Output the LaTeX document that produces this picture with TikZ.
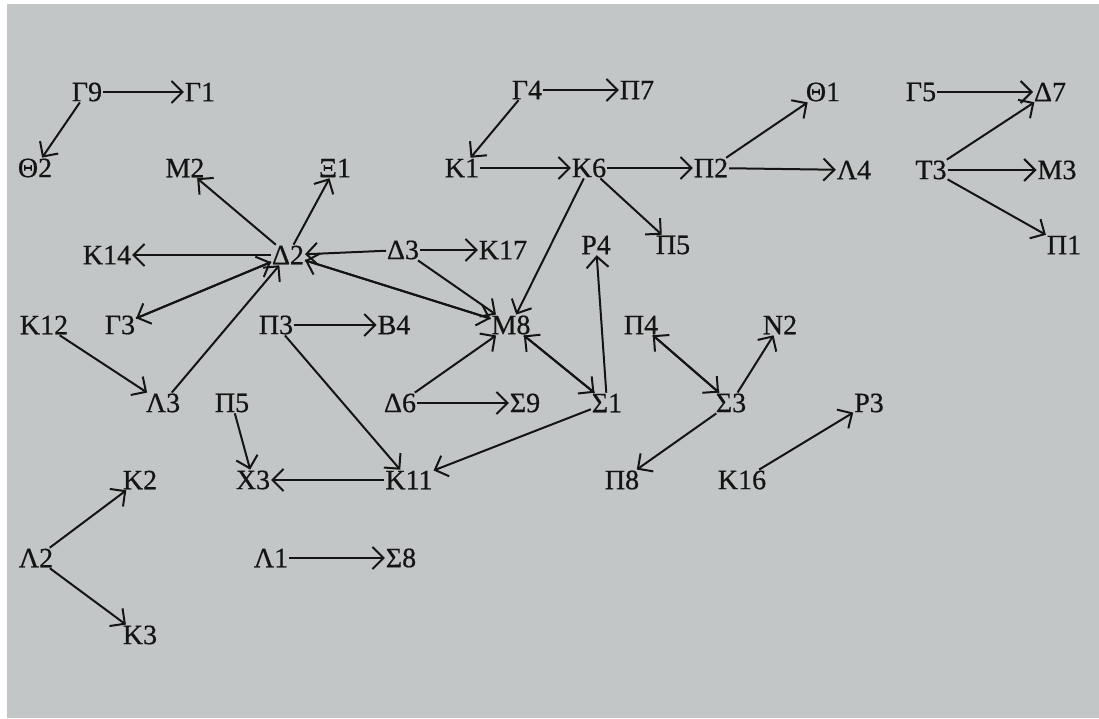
\documentclass[tikz,border=0pt]{standalone}
\usepackage{fontspec}
\setmainfont{Liberation Serif}[BoldFont={Liberation Serif},BoldFeatures={FakeBold=0.6}]
\usetikzlibrary{arrows.meta}
\definecolor{bggray}{RGB}{195,198,199}
\definecolor{ink}{RGB}{20,20,20}
\begin{document}
\begin{tikzpicture}[x=1pt,y=-1pt,
  lbl/.style={inner sep=1pt,outer sep=0pt,font=\fontsize{28}{30}\selectfont\bfseries,text=ink},
  edge/.style={draw=ink,line width=2pt,-{Straight Barb[length=11pt,width=22pt,line width=2pt]}}]
\useasboundingbox (0,0) rectangle (1099,718);
\fill[white] (0,0) rectangle (1099,718);
\fill[bggray] (7,4) rectangle (1099,718);
% nodes
\node[lbl] (G9) at (87,92) {Γ9};
\node[lbl] (G1) at (200,92) {Γ1};
\node[lbl] (Th2) at (35,168) {Θ2};
\node[lbl] (M2) at (185,168) {Μ2};
\node[lbl] (Xi1) at (335,168) {Ξ1};
\node[lbl] (K14) at (107,255) {Κ14};
\node[lbl] (L2a) at (288,255) {Δ2};
\node[lbl] (D3) at (403,250) {Δ3};
\node[lbl] (K17) at (503,250) {Κ17};
\node[lbl] (G4) at (527,90) {Γ4};
\node[lbl] (P7) at (637,90) {Π7};
\node[lbl] (K1) at (462,168) {Κ1};
\node[lbl] (K6) at (589,168) {Κ6};
\node[lbl] (P2) at (711,168) {Π2};
\node[lbl] (Th1) at (823,92) {Θ1};
\node[lbl] (L4) at (854,170) {Λ4};
\node[lbl] (G5) at (921,92) {Γ5};
\node[lbl] (D7) at (1050,92) {Δ7};
\node[lbl] (T3) at (931,170) {Τ3};
\node[lbl] (M3) at (1057,170) {Μ3};
\node[lbl] (P1) at (1064,245) {Π1};
\node[lbl] (R4) at (596,245) {Ρ4};
\node[lbl] (P5a) at (673,245) {Π5};
\node[lbl] (K12) at (44,325) {Κ12};
\node[lbl] (G3) at (120,325) {Γ3};
\node[lbl] (L3) at (163,403) {Λ3};
\node[lbl] (P5b) at (232,403) {Π5};
\node[lbl] (P3) at (276,325) {Π3};
\node[lbl] (B4) at (394,325) {Β4};
\node[lbl] (M8) at (511,325) {Μ8};
\node[lbl] (D6) at (400,403) {Δ6};
\node[lbl] (S9) at (525,403) {Σ9};
\node[lbl] (S1) at (607,403) {Σ1};
\node[lbl] (P4) at (641,325) {Π4};
\node[lbl] (N2) at (780,325) {Ν2};
\node[lbl] (S3) at (731,403) {Σ3};
\node[lbl] (R3) at (869,403) {Ρ3};
\node[lbl] (P8) at (622,480) {Π8};
\node[lbl] (K16) at (742,480) {Κ16};
\node[lbl] (X3) at (253,480) {Χ3};
\node[lbl] (K11) at (409,480) {Κ11};
\node[lbl] (K2) at (140,480) {Κ2};
\node[lbl] (L2b) at (36,558) {Λ2};
\node[lbl] (K3) at (140,635) {Κ3};
\node[lbl] (L1) at (271,558) {Λ1};
\node[lbl] (S8) at (401,558) {Σ8};
% edges
\draw[edge] (G9) -- (G1);
\draw[edge] (G9) -- (Th2);
\draw[edge] (L2a) -- (M2);
\draw[edge] (L2a) -- (Xi1);
\draw[edge] (L2a) -- (K14);
\draw[edge] (L2a) -- (G3);
\draw[edge] (G3) -- (L2a);
\draw[edge] (L3) -- (L2a);
\draw[edge] (D3) -- (L2a);
\draw[edge] (M8) -- (L2a);
\draw[edge] (L2a) -- (M8);
\draw[edge] (D3) -- (K17);
\draw[edge] (D3) -- (M8);
\draw[edge] (G4) -- (P7);
\draw[edge] (G4) -- (K1);
\draw[edge] (K1) -- (K6);
\draw[edge] (K6) -- (P2);
\draw[edge] (K6) -- (P5a);
\draw[edge] (K6) -- (M8);
\draw[edge] (P2) -- (Th1);
\draw[edge] (P2) -- (L4);
\draw[edge] (G5) -- (D7);
\draw[edge] (T3) -- (D7);
\draw[edge] (T3) -- (M3);
\draw[edge] (T3) -- (P1);
\draw[edge] (K12) -- (L3);
\draw[edge] (P3) -- (B4);
\draw[edge] (P3) -- (K11);
\draw[edge] (D6) -- (M8);
\draw[edge] (D6) -- (S9);
\draw[edge] (S1) -- (R4);
\draw[edge] (S1) -- (M8);
\draw[edge] (M8) -- (S1);
\draw[edge] (S1) -- (K11);
\draw[edge] (P5b) -- (X3);
\draw[edge] (K11) -- (X3);
\draw[edge] (P4) -- (S3);
\draw[edge] (S3) -- (P4);
\draw[edge] (S3) -- (N2);
\draw[edge] (S3) -- (P8);
\draw[edge] (K16) -- (R3);
\draw[edge] (L2b) -- (K2);
\draw[edge] (L2b) -- (K3);
\draw[edge] (L1) -- (S8);
\end{tikzpicture}
\end{document}
